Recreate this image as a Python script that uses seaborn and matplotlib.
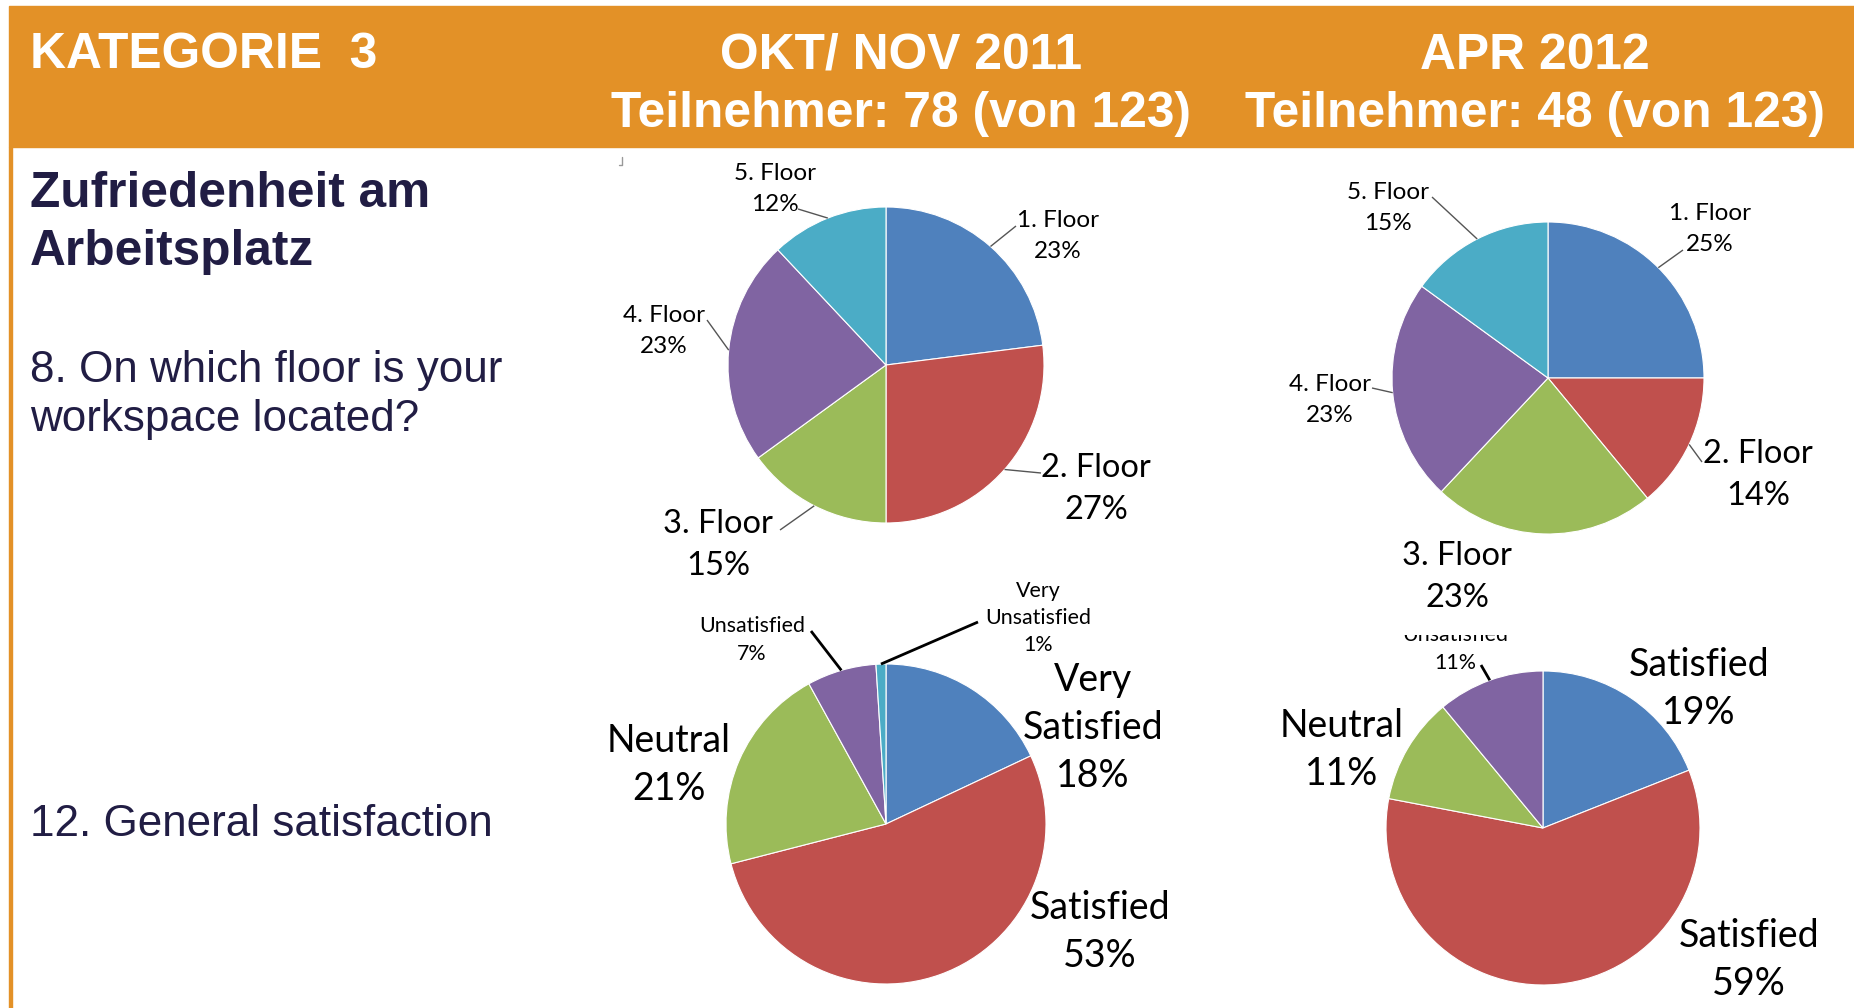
import numpy as np
import matplotlib
matplotlib.use("Agg")
import matplotlib.pyplot as plt
import seaborn as sns

# data
floor_labels = ["1. Floor", "2. Floor", "3. Floor", "4. Floor", "5. Floor"]
floor_2011 = [23, 27, 15, 23, 12]
floor_2012 = [25, 14, 23, 23, 15]

sat_labels_2011 = ["Very\nSatisfied", "Satisfied", "Neutral", "Unsatisfied", "Very\nUnsatisfied"]
sat_2011 = [18, 53, 21, 7, 1]
sat_labels_2012 = ["Satisfied", "Satisfied", "Neutral", "Unsatisfied"]
sat_2012 = [19, 59, 11, 11]

header_left = "KATEGORIE  3"
header_cols = ["OKT/ NOV 2011\nTeilnehmer: 78 (von 123)", "APR 2012\nTeilnehmer: 48 (von 123)"]

excel = sns.color_palette(["#4F81BD", "#C0504D", "#9BBB59", "#8064A2", "#4BACC6"])

sns.set_theme(style="white")
plt.rcParams["font.family"] = ["Lato", "DejaVu Sans"]

W, H = 1854, 1008
fig = plt.figure(figsize=(W / 100, H / 100), dpi=100)
fig.patch.set_facecolor("white")

ORANGE = "#E39127"
NAVY = "#211D44"

# header band and left border
fig.patches.append(plt.Rectangle((9 / W, 1 - 147 / H), 1 - 9 / W, 141 / H,
                                 transform=fig.transFigure, color=ORANGE, zorder=0))
fig.patches.append(plt.Rectangle((9 / W, 0), 2.5 / W, 1 - 147 / H,
                                 transform=fig.transFigure, color=ORANGE, zorder=0))
# little corner mark left over from the slide
fig.add_artist(plt.Line2D([619 / W, 622 / W, 622 / W], [1 - 165 / H, 1 - 165 / H, 1 - 157 / H],
                          transform=fig.transFigure, color="#999999", lw=1))

hfont = dict(family="Liberation Sans", weight="bold", color="white", fontsize=35.8)
fig.text(30 / W, 1 - 55 / H, header_left, ha="left", va="center", **hfont)
for cx, txt in zip([901, 1535], header_cols):
    fig.text(cx / W, 1 - 85 / H, txt, ha="center", va="center", linespacing=1.36, **hfont)

fig.text(30 / W, 1 - 223 / H, "Zufriedenheit am\nArbeitsplatz", ha="left", va="center",
         family="Liberation Sans", weight="bold", color=NAVY, fontsize=35.7, linespacing=1.34)
fig.text(30 / W, 1 - 395 / H, "8. On which floor is your\nworkspace located?", ha="left",
         va="center", family="Liberation Sans", color=NAVY, fontsize=31.7, linespacing=1.24)
fig.text(30 / W, 1 - 824 / H, "12. General satisfaction", ha="left", va="center",
         family="Liberation Sans", color=NAVY, fontsize=31.7)


def pie_axes(box, center):
    # box = (left, top, right, bottom) in px; data units are px around the pie center
    l, t, r, b = box
    cx, cy = center
    ax = fig.add_axes([l / W, 1 - b / H, (r - l) / W, (b - t) / H])
    ax.set_facecolor("none")
    return ax, (l - cx, r - cx), (cy - b, cy - t)


def draw_pie(box, center, radius, values, labels, layout):
    ax, xl, yl = pie_axes(box, center)
    wedges, _ = ax.pie(values, colors=excel[:len(values)], startangle=90, counterclock=False,
                       radius=radius, wedgeprops=dict(edgecolor="white", linewidth=0.8))
    ax.set_xlim(*xl)
    ax.set_ylim(*yl)
    ax.set_aspect("auto")
    ax.axis("off")
    for w, lab, v, lay in zip(wedges, labels, values, layout):
        tx, ty, size, ls, start, lw, lc, clip = lay
        ang = np.deg2rad((w.theta1 + w.theta2) / 2)
        ex, ey = radius * np.cos(ang), radius * np.sin(ang)
        # va=center sits a touch high because of the descent, nudge down
        ax.text(tx, ty - 3, f"{lab}\n{v}%", ha="center", va="center", fontsize=size,
                color="black", linespacing=ls, clip_on=clip)
        if start is not None:
            ax.plot([start[0], ex], [start[1], ey], color=lc, lw=lw, solid_capstyle="butt")
    return ax


S, M, L, XS = (17.5, 1.58), (23.5, 1.5), (27, 1.42), (15.4, 1.46)
thin = (1.0, "#555555")
thick = (2.0, "black")

# (text x, text y, font size, line spacing, leader start, line width, line colour, clip)
lay_tl = [(172, 132) + S + ((130, 139),) + thin + (False,),
          (210, -121) + M + ((155, -108),) + thin + (False,),
          (-168, -177) + M + ((-106, -165),) + thin + (False,),
          (-222, 37) + S + ((-179, 45),) + thin + (False,),
          (-111, 179) + S + ((-88, 156),) + thin + (False,)]
lay_tr = [(162, 152) + S + ((135, 128),) + thin + (False,),
          (210, -94) + M + ((154, -84),) + thin + (False,),
          (-91, -196) + M + (None,) + thin + (False,),
          (-218, -19) + S + ((-176, -10),) + thin + (False,),
          (-160, 173) + S + ((-116, 181),) + thin + (False,)]
lay_bl = [(207, 99) + L + (None,) + thin + (False,),
          (214, -105) + L + (None,) + thin + (False,),
          (-217, 62) + L + (None,) + thin + (False,),
          (-134, 187) + XS + ((-75, 193),) + thick + (False,),
          (152, 209) + XS + ((92, 202),) + thick + (False,)]
lay_br = [(156, 142) + L + (None,) + thin + (False,),
          (206, -129) + L + (None,) + thin + (False,),
          (-201, 81) + L + (None,) + thin + (False,),
          (-88, 182) + XS + ((-62, 163),) + thick + (True,)]

draw_pie((600, 140, 1200, 600), (886, 365), 158, floor_2011, floor_labels, lay_tl)
draw_pie((1250, 140, 1854, 612), (1548, 378), 156, floor_2012, floor_labels, lay_tr)
draw_pie((600, 570, 1200, 1008), (886, 824), 160, sat_2011, sat_labels_2011, lay_bl)
draw_pie((1250, 635, 1854, 1008), (1543, 828), 157, sat_2012, sat_labels_2012, lay_br)

fig.savefig("out.png", dpi=100)
